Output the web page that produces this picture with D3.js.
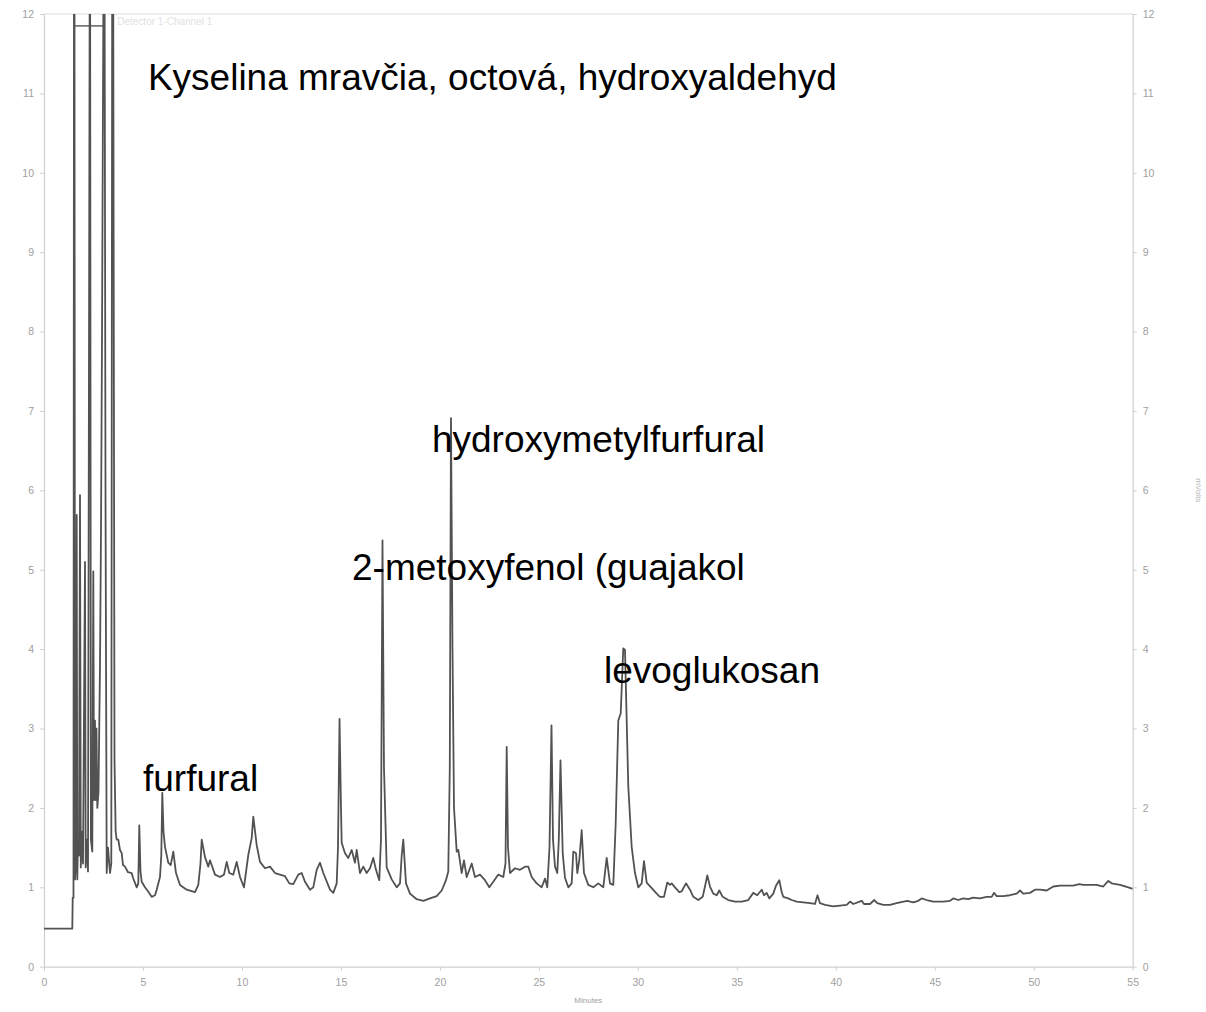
<!DOCTYPE html>
<html>
<head>
<meta charset="utf-8">
<script src="https://cdn.jsdelivr.net/npm/d3@7"></script>
<style>
  html, body { margin: 0; padding: 0; background: #fff; }
  svg { display: block; }
</style>
</head>
<body>
<div id="chart"></div>
<script>
// ---- data (minutes, mVolts) ----
const times = [0,1.43,1.45,1.49,1.515,1.54,1.566,1.617,1.652,1.682,1.718,1.768,1.819,1.859,1.92,1.97,2.071,2.106,2.172,2.223,2.309,2.33,2.37,2.44,2.491,2.526,2.576,2.612,2.652,2.693,2.753,2.829,2.88,2.93,3.006,3.06,3.107,3.167,3.233,3.334,3.40,3.445,3.496,3.562,3.62,3.673,3.754,3.839,3.925,3.991,4.092,4.243,4.43,4.496,4.683,4.764,4.814,4.875,4.936,5.102,5.254,5.441,5.608,5.693,5.86,5.926,5.976,6.037,6.113,6.279,6.401,6.532,6.668,6.87,7.209,7.628,7.795,7.906,7.967,8.133,8.3,8.386,8.639,8.891,9.093,9.23,9.361,9.563,9.735,9.902,10.103,10.321,10.493,10.573,10.745,10.912,11.164,11.417,11.67,11.922,12.175,12.392,12.594,12.847,13.018,13.185,13.438,13.604,13.776,13.943,14.11,14.448,14.615,14.787,14.852,14.93,15.004,15.039,15.206,15.373,15.544,15.711,15.797,15.964,16.13,16.302,16.469,16.635,16.772,16.938,17.024,17.1,17.176,17.312,17.565,17.818,17.985,18.071,18.151,18.288,18.49,18.828,19.162,19.5,19.838,20.091,20.308,20.424,20.5,20.561,20.637,20.713,20.849,20.93,21.101,21.217,21.354,21.606,21.773,22.026,22.278,22.496,22.698,22.95,23.203,23.314,23.375,23.44,23.541,23.794,24.046,24.299,24.466,24.637,24.89,25.143,25.309,25.426,25.537,25.638,25.714,25.815,25.931,26.007,26.093,26.204,26.32,26.487,26.658,26.739,26.876,26.941,27.042,27.163,27.279,27.497,27.749,28.002,28.255,28.426,28.593,28.76,28.881,29.013,29.134,29.265,29.351,29.437,29.518,29.689,29.856,30.023,30.194,30.311,30.447,30.7,30.952,31.119,31.321,31.488,31.624,31.71,31.877,32.094,32.216,32.433,32.635,32.802,33.054,33.276,33.392,33.509,33.645,33.812,33.983,34.115,34.286,34.569,34.908,35.246,35.58,35.832,36.034,36.257,36.373,36.509,36.641,36.843,36.979,37.146,37.267,37.348,37.6,37.772,38.024,38.358,38.697,38.949,39.076,39.202,39.455,39.874,40.212,40.551,40.718,40.884,41.309,41.425,41.728,41.945,42.097,42.4,42.738,43.077,43.243,43.612,43.915,44.168,44.34,44.592,44.926,45.431,45.77,45.936,46.189,46.441,46.694,46.946,47.285,47.623,47.876,47.992,48.129,48.462,48.8,49.139,49.306,49.472,49.811,50.063,50.316,50.654,50.988,51.326,51.664,51.998,52.301,52.503,52.842,53.18,53.514,53.766,53.938,54.357,54.778,55];
const signal = [0.48,0.48,0.87,0.87,12.5,12.5,1.1,1.3,5.69,1.1,1.6,1.4,5.94,1.25,1.7,1.3,5.1,1.25,1.6,1.2,12.5,12.5,1.6,1.45,4.98,2.1,3.1,2.1,3.0,2.0,2.2,3.8,5.5,7.9,12.5,12.5,6.0,1.18,1.5,1.18,1.3,12.5,12.5,2.6,1.7,1.6,1.6,1.47,1.43,1.28,1.26,1.19,1.18,1.12,1.0,1.05,1.78,1.2,1.07,1.0,0.95,0.88,0.9,0.97,1.13,1.4,2.19,1.7,1.51,1.31,1.28,1.45,1.18,1.03,0.97,0.94,1.03,1.3,1.6,1.38,1.26,1.34,1.16,1.13,1.16,1.32,1.18,1.16,1.32,1.13,1.0,1.41,1.62,1.89,1.53,1.32,1.24,1.26,1.18,1.16,1.14,1.05,1.04,1.16,1.18,1.07,0.97,1.0,1.22,1.31,1.18,0.97,0.93,1.05,1.5,3.12,2.0,1.56,1.43,1.37,1.47,1.31,1.47,1.18,1.26,1.18,1.24,1.37,1.22,1.09,1.6,5.37,2.5,1.25,1.1,1.0,1.05,1.4,1.6,1.05,0.92,0.85,0.83,0.86,0.89,0.96,1.09,1.2,2.5,6.91,4.0,2.0,1.45,1.47,1.18,1.34,1.13,1.3,1.13,1.16,1.09,1.0,1.07,1.16,1.13,1.3,2.77,1.5,1.18,1.24,1.22,1.26,1.26,1.13,1.05,1.0,1.11,1.0,1.5,3.04,1.6,1.26,1.18,1.6,2.6,1.43,1.12,1.0,1.05,1.45,1.43,1.18,1.34,1.72,1.18,1.03,1.0,1.05,1.0,1.37,1.05,1.03,1.8,3.1,3.19,4.01,3.99,3.1,2.27,1.51,1.18,1.0,1.05,1.33,1.06,0.99,0.92,0.88,0.88,1.06,1.03,1.05,1.0,0.94,0.95,1.05,0.97,0.88,0.84,0.88,1.01,1.15,1.01,0.92,0.9,0.96,0.88,0.84,0.82,0.82,0.84,0.93,0.9,0.97,0.9,0.93,0.86,0.92,1.02,1.09,0.94,0.88,0.86,0.84,0.82,0.81,0.8,0.79,0.9,0.8,0.78,0.76,0.77,0.78,0.82,0.79,0.83,0.79,0.79,0.84,0.8,0.78,0.78,0.8,0.81,0.83,0.81,0.83,0.86,0.84,0.82,0.82,0.83,0.86,0.84,0.86,0.85,0.87,0.86,0.88,0.88,0.93,0.89,0.89,0.9,0.92,0.96,0.92,0.93,0.97,0.97,0.96,1.01,1.02,1.02,1.02,1.04,1.03,1.03,1.03,1.01,1.08,1.05,1.03,1.0,0.98];

// off-scale marker (detector overflow bar)
const overflowTimes = [1.515, 3.006];
const overflowLevel = 11.85;

// axis ticks
const xTickValues = [0,5,10,15,20,25,30,35,40,45,50,55];
const yTickValues = [0,1,2,3,4,5,6,7,8,9,10,11,12];

// peak annotations
const peakNames  = ["Kyselina mravčia, octová, hydroxyaldehyd", "hydroxymetylfurfural", "2-metoxyfenol (guajakol", "levoglukosan", "furfural"];
const peakTimes  = [5.25, 19.6, 15.56, 28.29, 5.0];
const peakLevels = [11.04, 6.48, 4.87, 3.57, 2.21];

const headerText = "Detector 1-Channel 1";
const xTitle = "Minutes";
const yTitle = "mVolts";

// ---- layout ----
const W = 1206, H = 1012;
const plotL = 44, plotR = 1132.7, plotT = 14, plotB = 966.7;

const svg = d3.select("#chart").append("svg")
  .attr("width", W).attr("height", H)
  .style("font-family", "'Liberation Sans', Arial, sans-serif");

svg.append("rect").attr("width", W).attr("height", H).attr("fill", "#fff");

const x = d3.scaleLinear().domain([0, 55]).range([plotL, plotR]);
const y = d3.scaleLinear().domain([0, 12]).range([plotB, plotT]);

const axisColor = "#cfcfcf";
const labelColor = "#a0a0a0";

// frame: top border line
svg.append("line")
  .attr("x1", plotL).attr("x2", plotR).attr("y1", plotT).attr("y2", plotT)
  .attr("stroke", "#dcdcdc").attr("stroke-width", 1.2);

function styleAxis(g) {
  g.select(".domain").attr("stroke", axisColor).attr("stroke-width", 1.2);
  g.selectAll(".tick line").attr("stroke", axisColor).attr("stroke-width", 1);
  g.selectAll(".tick text").attr("fill", labelColor).style("font-size", "10.5px")
    .style("font-family", "'Liberation Sans', Arial, sans-serif");
}

const gx = svg.append("g").attr("transform", `translate(0,${plotB})`)
  .call(d3.axisBottom(x).tickValues(xTickValues).tickSize(4).tickPadding(8).tickSizeOuter(0));
styleAxis(gx);

const gyl = svg.append("g").attr("transform", `translate(${plotL},0)`)
  .call(d3.axisLeft(y).tickValues(yTickValues).tickSize(4).tickPadding(6).tickSizeOuter(0));
styleAxis(gyl);

const gyr = svg.append("g").attr("transform", `translate(${plotR},0)`)
  .call(d3.axisRight(y).tickValues(yTickValues).tickSize(4).tickPadding(6).tickSizeOuter(0));
styleAxis(gyr);

// axis titles
svg.append("text").attr("x", (plotL + plotR) / 2).attr("y", 1003)
  .attr("text-anchor", "middle").attr("fill", "#a0a0a0").style("font-size", "8px")
  .text(xTitle);

svg.append("text")
  .attr("transform", `translate(1196,${y(6)}) rotate(90)`)
  .attr("text-anchor", "middle").attr("fill", "#b5b5b5").style("font-size", "8px")
  .text(yTitle);

// header
svg.append("text").attr("x", x(3.7)).attr("y", plotT + 11)
  .attr("fill", "#e2e2e2").style("font-size", "10px").text(headerText);

// clip
svg.append("clipPath").attr("id", "plotclip")
  .append("rect").attr("x", plotL).attr("y", plotT).attr("width", plotR - plotL).attr("height", plotB - plotT);

const pts = times.map((t, i) => [t, signal[i]]);
const line = d3.line().x(d => x(d[0])).y(d => y(d[1]));

svg.append("path")
  .attr("clip-path", "url(#plotclip)")
  .attr("d", line(pts))
  .attr("fill", "none")
  .attr("stroke", "#525252")
  .attr("stroke-width", 1.8)
  .attr("stroke-linejoin", "round");

svg.append("path")
  .attr("d", line(overflowTimes.map(t => [t, overflowLevel])))
  .attr("fill", "none").attr("stroke", "#555").attr("stroke-width", 1.4);

// annotations
svg.append("g").selectAll("text").data(peakNames).join("text")
  .attr("x", (d, i) => x(peakTimes[i]))
  .attr("y", (d, i) => y(peakLevels[i]))
  .attr("fill", "#000")
  .style("font-size", "37px")
  .text(d => d);
</script>
</body>
</html>
